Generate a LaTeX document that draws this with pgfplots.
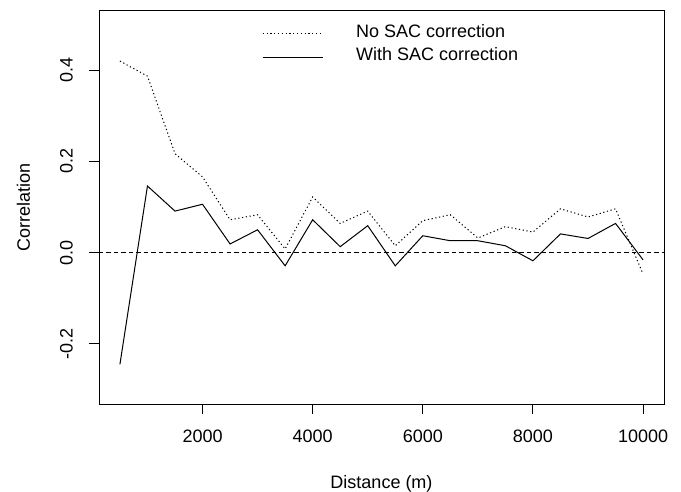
\documentclass[border=0pt]{standalone}
\usepackage{fontspec}
\setmainfont{Liberation Sans}
\usepackage{pgfplots}
\pgfplotsset{compat=1.18}
\begin{document}
\begin{tikzpicture}
\begin{axis}[
  scale only axis,
  width=565bp, height=394bp,
  xmin=120, xmax=10380,
  ymin=-0.332, ymax=0.532,
  scaled x ticks=false, scaled y ticks=false,
  axis line style={black, line width=0.9bp},
  tick style={black, line width=0.9bp},
  tick align=outside,
  major tick length=10bp,
  xtick={2000,4000,6000,8000,10000},
  xticklabels={2000,4000,6000,8000,10000},
  ytick={-0.2,0,0.2,0.4},
  yticklabels={-0.2,0.0,0.2,0.4},
  xtick pos=bottom, ytick pos=left,
  font=\fontsize{18bp}{21bp}\selectfont,
  xticklabel style={anchor=base, inner sep=0pt},
  yticklabel style={rotate=90, anchor=south, inner sep=0pt},
  xticklabel shift=28bp,
  yticklabel shift=16bp,
  xlabel={Distance (m)},
  ylabel={Correlation},
  every axis x label/.style={at={([yshift=-84bp]axis description cs:0.5,0)}, anchor=base, inner sep=0pt},
  every axis y label/.style={at={([xshift=-69bp]axis description cs:0,0.5)}, rotate=90, anchor=base, inner sep=0pt},
  legend style={draw=none, fill=none, at={([xshift=163bp,yshift=-14bp]axis description cs:0,1)}, anchor=north west,
    inner sep=0pt, row sep=9bp, column sep=33bp,
    nodes={inner sep=0pt, anchor=base west},
    font=\fontsize{18bp}{21bp}\selectfont},
  legend cell align=left,
  legend image code/.code={\draw[#1] (0bp,0.35em) -- (60bp,0.35em);},
]
\addplot[black, line width=1bp, dash pattern=on 1.2bp off 2.6bp] coordinates {
(500,0.420) (1000,0.387) (1500,0.217) (2000,0.166) (2500,0.072) (3000,0.083)
(3500,0.008) (4000,0.122) (4500,0.064) (5000,0.091) (5500,0.015) (6000,0.070)
(6500,0.083) (7000,0.032) (7500,0.057) (8000,0.045) (8500,0.096) (9000,0.078)
(9500,0.096) (10000,-0.047)};
\addlegendentry{No SAC correction}
\addplot[black, line width=1bp] coordinates {
(500,-0.245) (1000,0.146) (1500,0.091) (2000,0.106) (2500,0.019) (3000,0.050)
(3500,-0.029) (4000,0.072) (4500,0.013) (5000,0.059) (5500,-0.029) (6000,0.037)
(6500,0.026) (7000,0.026) (7500,0.015) (8000,-0.018) (8500,0.041) (9000,0.031)
(9500,0.064) (10000,-0.016)};
\addlegendentry{With SAC correction}
\addplot[black, line width=1bp, dash pattern=on 4.5bp off 3bp, forget plot] coordinates {(120,0) (10380,0)};
\end{axis}
\pgfresetboundingbox
\path[use as bounding box] (-99bp,-88bp) rectangle (582bp,404bp);
\end{tikzpicture}
\end{document}
